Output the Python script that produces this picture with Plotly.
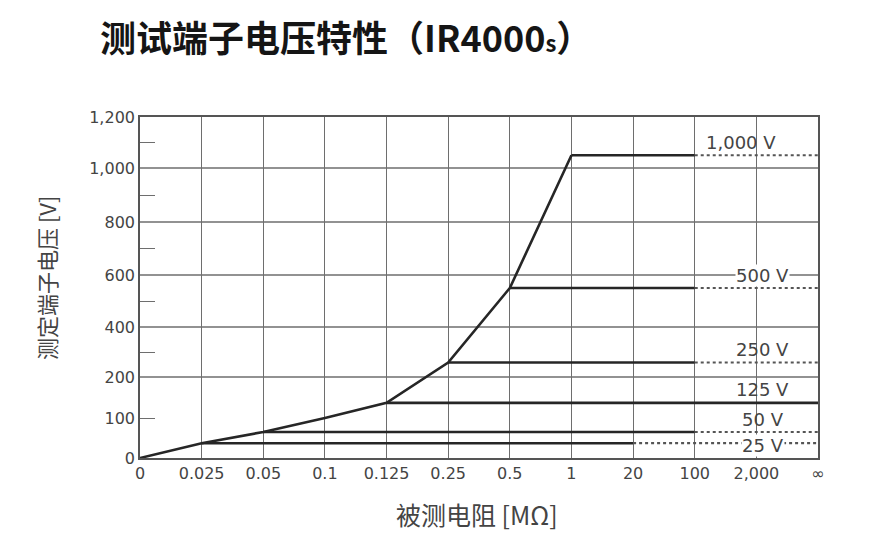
import numpy as np
import plotly.graph_objects as go

# ---------------- data ----------------
x_categories = ["0", "0.025", "0.05", "0.1", "0.125", "0.25", "0.5", "1", "20", "100", "2,000", "∞"]

# load curve (measured resistance category -> terminal voltage V)
curve_R = ["0", "0.025", "0.05", "0.1", "0.125", "0.25", "0.5", "1"]
curve_V = [0, 37, 65, 100, 137, 258, 550, 1050]

# range lines
range_labels = ["1,000 V", "500 V", "250 V", "125 V", "50 V", "25 V"]
range_V = [1050, 550, 258, 137, 65, 37]
range_start = ["1", "0.5", "0.25", "0.125", "0.05", "0.025"]
range_solid_end = ["100", "100", "100", "∞", "100", "20"]

# y axis ticks (non-uniform scale)
y_tick_volts = [0, 100, 200, 400, 600, 800, 1000, 1200]
y_tick_labels = ["0", "100", "200", "400", "600", "800", "1,000", "1,200"]
y_grid_volts = [200, 400, 600, 800, 1000]
y_minor_volts = [100, 300, 500, 700, 900, 1100]

# axis layout: position of each y tick on the drawn scale
y_axis_pos = [0, 40, 81, 131, 183, 236, 290, 341]


def ymap(v):
    return np.interp(v, y_tick_volts, y_axis_pos)


LINE = "#262626"
GRID = "#6e6e6e"
TXT = "#444444"
FONT = "Noto Sans CJK SC, Noto Sans, sans-serif"
NUMFONT = "DejaVu Sans, Liberation Sans, sans-serif"

# page offset (html body margin)
OFF = 8
PL, PR, PT, PB = 140 - OFF, 818 - OFF, 117 - OFF, 458 - OFF
PW, PH = PR - PL, PB - PT

fig = go.Figure()

# range lines
for lab, v, s, e in zip(range_labels, range_V, range_start, range_solid_end):
    y = float(ymap(v))
    fig.add_trace(go.Scatter(x=[s, e], y=[y, y], mode="lines",
                             line=dict(color=LINE, width=2.6), hoverinfo="skip", showlegend=False))
    if e != "∞":
        fig.add_trace(go.Scatter(x=[e, "∞"], y=[y, y], mode="lines",
                                 line=dict(color="#555555", width=2.2, dash="dot"),
                                 hoverinfo="skip", showlegend=False))

# load curve
fig.add_trace(go.Scatter(x=curve_R, y=ymap(curve_V), mode="lines",
                         line=dict(color=LINE, width=2.6), hoverinfo="skip", showlegend=False))

# grid lines (horizontal)
shapes = []
for v in y_grid_volts:
    y = float(ymap(v))
    shapes.append(dict(type="line", xref="paper", x0=0, x1=1, yref="y", y0=y, y1=y,
                       line=dict(color=GRID, width=1.4), layer="below"))

# range labels
annots = []
for lab, v in zip(range_labels, range_V):
    y = float(ymap(v))
    on_line = lab in ("25 V",)
    on_grid = lab == "500 V"
    xpos = 9.75 if lab == "1,000 V" else 10.1
    annots.append(dict(x=xpos, y=y, xref="x", yref="y", text=lab, showarrow=False,
                       yshift=(-2 if on_line else 13), xanchor="center", yanchor="middle",
                       font=dict(size=18, color=TXT, family=NUMFONT),
                       bgcolor=("white" if (on_line or on_grid) else None),
                       borderpad=0))

# axis titles
annots.append(dict(x=(477 - OFF - PL) / PW, y=(PB - (514 - OFF)) / PH, xref="paper", yref="paper",
                   text="被测电阻 [MΩ]", showarrow=False, xanchor="center", yanchor="middle",
                   font=dict(size=25, color=TXT, family=FONT)))
annots.append(dict(x=(46 - OFF - PL) / PW, y=(PB - (278 - OFF)) / PH, xref="paper", yref="paper",
                   text="测定端子电压 [V]", showarrow=False, textangle=-90,
                   xanchor="center", yanchor="middle",
                   font=dict(size=22, color=TXT, family=FONT)))

fig.update_layout(
    width=880, height=539,
    margin=dict(l=PL, r=880 - PR, t=PT, b=539 - PB),
    paper_bgcolor="white", plot_bgcolor="white",
    title=dict(text="<b>测试端子电压特性（IR4000<span style='font-size:22px'>s</span>）</b>",
               x=(100 - OFF) / 880, xanchor="left", xref="container",
               y=1 - (39 - OFF) / 539, yanchor="middle",
               font=dict(size=36, color="#151515", family=FONT)),
    shapes=shapes,
    annotations=annots,
    xaxis=dict(type="category", categoryorder="array", categoryarray=x_categories,
               range=[0, len(x_categories) - 1],
               showgrid=True, gridcolor=GRID, gridwidth=1.4,
               showline=True, linecolor="#555555", linewidth=1.6, mirror=True,
               ticks="", tickfont=dict(size=16, color=TXT, family=NUMFONT),
               zeroline=False, fixedrange=True),
    yaxis=dict(range=[0, y_axis_pos[-1]], tickmode="array",
               tickvals=[float(ymap(v)) for v in y_tick_volts], ticktext=y_tick_labels,
               showgrid=False, zeroline=False,
               showline=True, linecolor="#555555", linewidth=1.6, mirror=True,
               ticks="", tickfont=dict(size=16, color=TXT, family=NUMFONT),
               minor=dict(tickmode="array", tickvals=[float(ymap(v)) for v in y_minor_volts],
                          ticks="inside", ticklen=15, tickwidth=1.4, tickcolor=GRID, showgrid=False),
               fixedrange=True),
)

fig.write_html("out.html")
